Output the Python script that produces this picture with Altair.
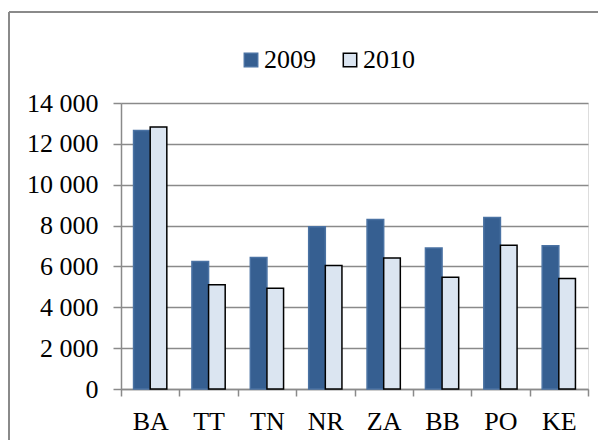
import altair as alt
import pandas as pd

cats = ["BA", "TT", "TN", "NR", "ZA", "BB", "PO", "KE"]
v2009 = [12650, 6240, 6440, 7940, 8300, 6900, 8400, 7010]
v2010 = [12830, 5100, 4930, 6050, 6410, 5470, 7040, 5410]
years = ["2009", "2010"]
yticks = [0, 2000, 4000, 6000, 8000, 10000, 12000, 14000]

rows = []
for c, a, b in zip(cats, v2009, v2010):
    rows.append({"region": c, "year": "2009", "value": a})
    rows.append({"region": c, "year": "2010", "value": b})
df = pd.DataFrame(rows)

GRID = "#8a8a8a"
FONT = "Liberation Serif"
FS = 26

legend = alt.Legend(
    title=None, orient="none", legendX=117, legendY=-56, direction="horizontal",
    symbolType="square", symbolSize=180, symbolStrokeWidth=1.5,
    labelFontSize=FS, labelFont=FONT, labelColor="black", labelOffset=0,
    columnPadding=21, padding=0,
)

bars = alt.Chart(df).mark_bar(strokeWidth=1.5).encode(
    x=alt.X("region:N", sort=cats,
            scale=alt.Scale(paddingInner=0, paddingOuter=0),
            axis=alt.Axis(title=None, labelAngle=0, tickBand="extent", ticks=True,
                          tickSize=7, tickColor=GRID, tickWidth=1.5,
                          domainColor=GRID, domainWidth=1.5, grid=False,
                          labelPadding=12, labelFontSize=FS, labelFont=FONT,
                          labelColor="black")),
    xOffset=alt.XOffset("year:N", sort=years,
                        scale=alt.Scale(paddingInner=0, paddingOuter=0.755)),
    y=alt.Y("value:Q", scale=alt.Scale(domain=[0, 14000], nice=False),
            axis=alt.Axis(title=None, values=yticks,
                          labelExpr="replace(format(datum.value, ','), ',', ' ')",
                          tickSize=8, tickColor=GRID, tickWidth=1.5,
                          domainColor=GRID, domainWidth=1.5,
                          grid=True, gridColor=GRID, gridWidth=1.5,
                          labelPadding=15, labelFontSize=FS, labelFont=FONT,
                          labelColor="black")),
    fill=alt.Fill("year:N", sort=years,
                  scale=alt.Scale(domain=years, range=["#365F91", "#DBE5F1"]),
                  legend=legend),
    stroke=alt.Stroke("year:N", sort=years,
                      scale=alt.Scale(domain=years, range=["#4a72a3", "#000000"]),
                      legend=legend),
)

frame_df = pd.DataFrame({"a": [0]})
frame_top = alt.Chart(frame_df).mark_rule(color=GRID, strokeWidth=2).encode(
    x=alt.value(-112), x2=alt.value(600), y=alt.value(-91)
)
frame_left = alt.Chart(frame_df).mark_rule(color=GRID, strokeWidth=2).encode(
    x=alt.value(-112), y=alt.value(-91), y2=alt.value(400)
)

chart = alt.layer(bars, frame_top, frame_left).properties(
    width=467, height=286,
    padding={"left": 113, "top": 95, "right": 10, "bottom": 51},
    autosize="none",
).configure_view(stroke=None).configure(font=FONT)

chart.save("out.html", embed_options={"renderer": "svg", "actions": False})
